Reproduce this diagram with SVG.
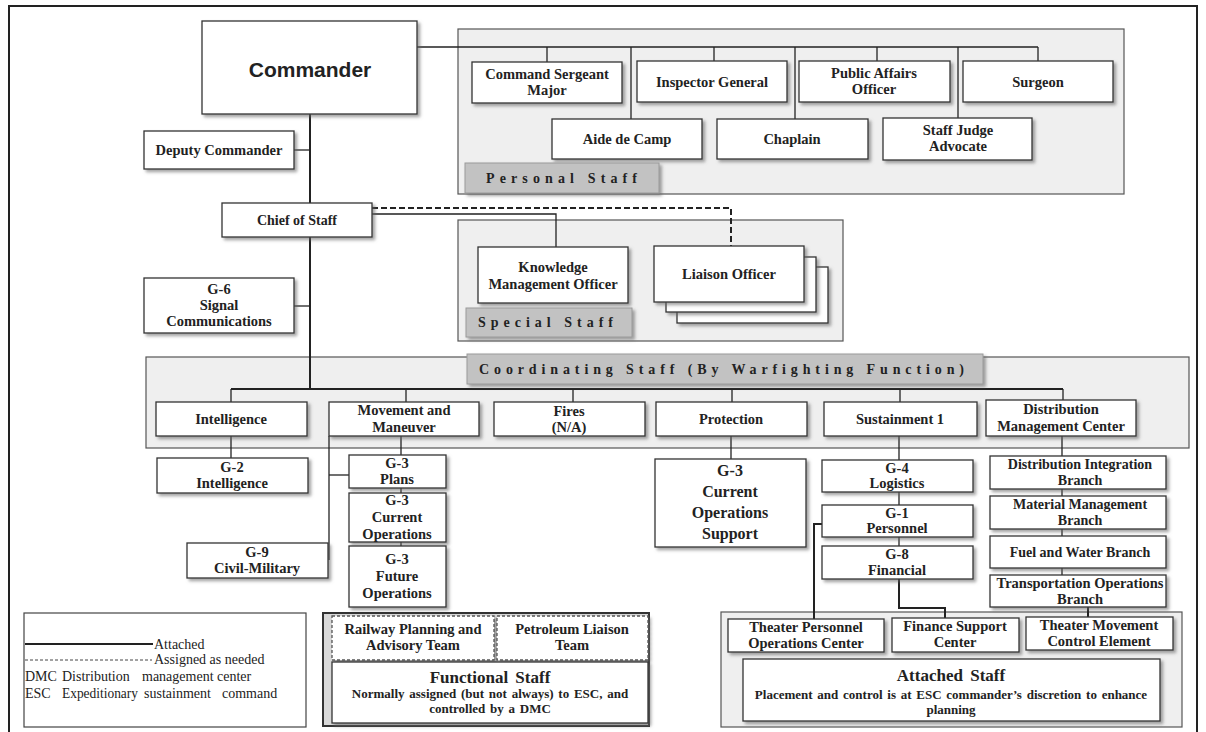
<svg xmlns="http://www.w3.org/2000/svg" width="1206" height="732" viewBox="0 0 1206 732">
<defs>
<filter id="sh" x="-10%" y="-10%" width="130%" height="140%">
<feDropShadow dx="2.5" dy="2.5" stdDeviation="1.5" flood-color="#666" flood-opacity="0.6"/>
</filter>
<style>
.box{fill:#fff;stroke:#333;stroke-width:1.3;filter:url(#sh)}
.dbox{fill:#fff;stroke:#555;stroke-width:1.3;stroke-dasharray:3 2;filter:url(#sh)}
.panel{fill:#efefef;stroke:#555;stroke-width:1.2}
.lbl{fill:#c2c2c2;stroke:#9a9a9a;stroke-width:1;filter:url(#sh)}
.t{font-family:"Liberation Serif","Times New Roman",serif;font-weight:bold;font-size:14.5px;fill:#222;text-anchor:middle}
.s{font-size:14px}
.big{font-size:16px}
.hd{font-size:17px;word-spacing:3px}
.sm{font-size:13px;word-spacing:1.5px}
.sp{font-family:"Liberation Serif","Times New Roman",serif;font-weight:bold;font-size:14px;fill:#222}
.lg{font-family:"Liberation Serif","Times New Roman",serif;font-size:14px;fill:#222}
.ln{stroke:#222;stroke-width:1.3;fill:none}
.lnb{stroke:#222;stroke-width:2;fill:none}
.dash{stroke:#222;stroke-width:2;fill:none;stroke-dasharray:6 3}
</style>
</defs>
<rect width="1206" height="732" fill="#fff"/>
<path d="M9,732 V6 H1197 V732" fill="none" stroke="#222" stroke-width="2"/>

<g id="panels">
<rect class="panel" x="458" y="29" width="666" height="165"/>
<rect class="panel" x="458" y="220" width="385" height="121"/>
<rect class="panel" x="146" y="357" width="1043" height="91"/>
<rect class="panel" x="721" y="612" width="461" height="115"/>
<rect x="323" y="613" width="326" height="113" fill="#d9d9d9" stroke="#333" stroke-width="2"/>
</g>

<g id="connectors">
<line class="ln" x1="417" y1="47" x2="1038" y2="47"/>
<line class="ln" x1="547" y1="47" x2="547" y2="62"/>
<line class="ln" x1="631" y1="47" x2="631" y2="119"/>
<line class="ln" x1="714" y1="47" x2="714" y2="61"/>
<line class="ln" x1="795" y1="47" x2="795" y2="119"/>
<line class="ln" x1="877" y1="47" x2="877" y2="61"/>
<line class="ln" x1="958" y1="47" x2="958" y2="118"/>
<line class="ln" x1="1038" y1="47" x2="1038" y2="61"/>
<line class="lnb" x1="310" y1="114" x2="310" y2="390"/>
<line class="ln" x1="294" y1="150" x2="310" y2="150"/>
<line class="ln" x1="294" y1="306" x2="310" y2="306"/>
<polyline class="dash" points="372,208 731,208 731,246"/>
<polyline class="ln" points="372,214 556,214 556,247"/>
<line class="lnb" x1="231" y1="389" x2="1063" y2="389"/>
<line class="ln" x1="231" y1="389" x2="231" y2="402"/>
<line class="ln" x1="406" y1="389" x2="406" y2="402"/>
<line class="ln" x1="573" y1="389" x2="573" y2="402"/>
<line class="ln" x1="732" y1="389" x2="732" y2="402"/>
<line class="ln" x1="900" y1="389" x2="900" y2="402"/>
<line class="ln" x1="1063" y1="389" x2="1063" y2="400"/>
<line class="ln" x1="231" y1="436" x2="231" y2="458"/>
<line class="ln" x1="329" y1="436" x2="329" y2="560"/>
<line class="ln" x1="329" y1="475" x2="349" y2="475"/>
<line class="ln" x1="401" y1="436" x2="401" y2="455"/>
<line class="ln" x1="401" y1="488" x2="401" y2="493"/>
<line class="ln" x1="401" y1="542" x2="401" y2="546"/>
<line class="ln" x1="731" y1="436" x2="731" y2="459"/>
<line class="ln" x1="899" y1="436" x2="899" y2="460"/>
<line class="ln" x1="899" y1="492" x2="899" y2="505"/>
<line class="ln" x1="899" y1="537" x2="899" y2="546"/>
<polyline class="lnb" points="822,524 814,524 814,619"/>
<polyline class="lnb" points="899,579 899,608 945,608 945,618"/>
<line class="ln" x1="1062" y1="436" x2="1062" y2="456"/>
<line class="ln" x1="1062" y1="489" x2="1062" y2="496"/>
<line class="ln" x1="1062" y1="529" x2="1062" y2="536"/>
<line class="ln" x1="1062" y1="568" x2="1062" y2="575"/>
<line class="lnb" x1="1088" y1="607" x2="1088" y2="617"/>
</g>

<g id="commander"><rect class="box" x="202" y="21" width="215" height="93"/>
<text x="310" y="77" text-anchor="middle" font-family="'Liberation Sans',Arial,sans-serif" font-weight="bold" font-size="21" fill="#222">Commander</text></g>

<g id="csm"><rect class="box" x="472" y="62" width="150" height="41"/><text class="t" x="547" y="79">Command Sergeant<tspan x="547" dy="16">Major</tspan></text></g>
<g id="ig"><rect class="box" x="637" y="61" width="150" height="41"/><text class="t" x="712" y="87">Inspector General</text></g>
<g id="pao"><rect class="box" x="799" y="61" width="151" height="41"/><text class="t" x="874" y="78">Public Affairs<tspan x="874" dy="16">Officer</tspan></text></g>
<g id="surgeon"><rect class="box" x="963" y="61" width="150" height="41"/><text class="t" x="1038" y="87">Surgeon</text></g>
<g id="aide"><rect class="box" x="552" y="119" width="150" height="40"/><text class="t" x="627" y="144">Aide de Camp</text></g>
<g id="chaplain"><rect class="box" x="717" y="119" width="151" height="40"/><text class="t" x="792" y="144">Chaplain</text></g>
<g id="sja"><rect class="box" x="883" y="118" width="149" height="42"/><text class="t" x="958" y="135">Staff Judge<tspan x="958" dy="16">Advocate</tspan></text></g>
<g id="personal-label"><rect class="lbl" x="465" y="163" width="194" height="30"/><text class="sp" x="486" y="183" textLength="151" lengthAdjust="spacing">Personal Staff</text></g>

<g id="deputy"><rect class="box" x="144" y="131" width="150" height="38"/><text class="t" x="219" y="155">Deputy Commander</text></g>
<g id="cos"><rect class="box" x="222" y="203" width="150" height="34"/><text class="t s" x="297" y="225">Chief of Staff</text></g>
<g id="g6"><rect class="box" x="144" y="278" width="150" height="55"/><text class="t" x="219" y="294">G-6<tspan x="219" dy="16">Signal</tspan><tspan x="219" dy="16">Communications</tspan></text></g>

<g id="kmo"><rect class="box" x="478" y="247" width="150" height="56"/><text class="t" x="553" y="272">Knowledge<tspan x="553" dy="17">Management Officer</tspan></text></g>
<g id="special-label"><rect class="lbl" x="466" y="308" width="166" height="29"/><text class="sp" x="478" y="327" textLength="135" lengthAdjust="spacing">Special Staff</text></g>
<g id="liaison">
<rect class="box" x="677" y="267" width="151" height="56"/>
<rect class="box" x="666" y="257" width="150" height="55"/>
<rect class="box" x="654" y="246" width="150" height="56"/>
<text class="t" x="729" y="279">Liaison Officer</text></g>

<g id="coord-label"><rect class="lbl" x="467" y="354" width="516" height="30"/><text class="sp" x="479" y="374" textLength="485" lengthAdjust="spacing">Coordinating Staff (By Warfighting Function)</text></g>
<g id="intelligence"><rect class="box" x="156" y="402" width="151" height="34"/><text class="t" x="231" y="424">Intelligence</text></g>
<g id="movement"><rect class="box" x="329" y="402" width="150" height="34"/><text class="t" x="404" y="415">Movement and<tspan x="404" dy="17">Maneuver</tspan></text></g>
<g id="fires"><rect class="box" x="494" y="402" width="151" height="34"/><text class="t" x="569" y="416">Fires<tspan x="569" dy="16">(N/A)</tspan></text></g>
<g id="protection"><rect class="box" x="656" y="402" width="151" height="34"/><text class="t" x="731" y="424">Protection</text></g>
<g id="sustainment"><rect class="box" x="824" y="402" width="153" height="34"/><text class="t" x="900" y="424">Sustainment 1</text></g>
<g id="dmc"><rect class="box" x="986" y="400" width="150" height="36"/><text class="t" x="1061" y="414">Distribution<tspan x="1061" dy="17">Management Center</tspan></text></g>

<g id="g2"><rect class="box" x="157" y="458" width="151" height="35"/><text class="t" x="232" y="472">G-2<tspan x="232" dy="16">Intelligence</tspan></text></g>
<g id="g9"><rect class="box" x="187" y="543" width="141" height="35"/><text class="t" x="257" y="557">G-9<tspan x="257" dy="16">Civil-Military</tspan></text></g>
<g id="g3-plans"><rect class="box" x="349" y="455" width="97" height="33"/><text class="t" x="397" y="468">G-3<tspan x="397" dy="16">Plans</tspan></text></g>
<g id="g3-current"><rect class="box" x="349" y="493" width="97" height="49"/><text class="t" x="397" y="505">G-3<tspan x="397" dy="17">Current</tspan><tspan x="397" dy="17">Operations</tspan></text></g>
<g id="g3-future"><rect class="box" x="349" y="546" width="97" height="61"/><text class="t" x="397" y="564">G-3<tspan x="397" dy="17">Future</tspan><tspan x="397" dy="17">Operations</tspan></text></g>

<g id="g3-cos"><rect class="box" x="655" y="459" width="151" height="88"/><text class="t big" x="730" y="476">G-3<tspan x="730" dy="21">Current</tspan><tspan x="730" dy="21">Operations</tspan><tspan x="730" dy="21">Support</tspan></text></g>
<g id="g4"><rect class="box" x="822" y="460" width="151" height="32"/><text class="t" x="897" y="473">G-4<tspan x="897" dy="15">Logistics</tspan></text></g>
<g id="g1"><rect class="box" x="822" y="505" width="151" height="32"/><text class="t" x="897" y="518">G-1<tspan x="897" dy="15">Personnel</tspan></text></g>
<g id="g8"><rect class="box" x="822" y="546" width="151" height="33"/><text class="t" x="897" y="559">G-8<tspan x="897" dy="16">Financial</tspan></text></g>

<g id="dib"><rect class="box" x="990" y="456" width="176" height="33"/><text class="t s" x="1080" y="469">Distribution Integration<tspan x="1080" dy="16">Branch</tspan></text></g>
<g id="mmb"><rect class="box" x="990" y="496" width="176" height="33"/><text class="t s" x="1080" y="509">Material Management<tspan x="1080" dy="16">Branch</tspan></text></g>
<g id="fwb"><rect class="box" x="990" y="536" width="176" height="32"/><text class="t s" x="1080" y="557">Fuel and Water Branch</text></g>
<g id="tob"><rect class="box" x="990" y="575" width="176" height="32"/><text class="t" x="1080" y="588">Transportation Operations<tspan x="1080" dy="16">Branch</tspan></text></g>

<g id="tpoc"><rect class="box" x="728" y="619" width="156" height="33"/><text class="t" x="806" y="632">Theater Personnel<tspan x="806" dy="16">Operations Center</tspan></text></g>
<g id="fsc"><rect class="box" x="892" y="618" width="127" height="34"/><text class="t" x="955" y="631">Finance Support<tspan x="955" dy="16">Center</tspan></text></g>
<g id="tmce"><rect class="box" x="1026" y="617" width="147" height="33"/><text class="t" x="1099" y="630">Theater Movement<tspan x="1099" dy="16">Control Element</tspan></text></g>
<g id="attached"><rect class="box" x="743" y="659" width="417" height="62"/><text class="t hd" x="951" y="681">Attached Staff</text><text class="t sm" x="951" y="699">Placement and control is at ESC commander’s discretion to enhance<tspan x="951" dy="15">planning</tspan></text></g>

<g id="railway"><rect class="dbox" x="332" y="616" width="162" height="44"/><text class="t" x="413" y="634">Railway Planning and<tspan x="413" dy="16">Advisory Team</tspan></text></g>
<g id="petroleum"><rect class="dbox" x="497" y="616" width="151" height="44"/><text class="t" x="572" y="634">Petroleum Liaison<tspan x="572" dy="16">Team</tspan></text></g>
<g id="functional"><rect class="box" x="332" y="662" width="316" height="61"/><text class="t hd" x="490" y="683">Functional Staff</text><text class="t sm" x="490" y="698">Normally assigned (but not always) to ESC, and<tspan x="490" dy="15">controlled by a DMC</tspan></text></g>

<g id="legend">
<rect x="24" y="613" width="282" height="114" fill="#fff" stroke="#444" stroke-width="1.2"/>
<line x1="25" y1="644" x2="153" y2="644" stroke="#222" stroke-width="2"/>
<line x1="25" y1="660" x2="152" y2="660" stroke="#444" stroke-width="1" stroke-dasharray="3 2"/>
<text class="lg" x="154" y="649">Attached</text>
<text class="lg" x="154" y="664">Assigned as needed</text>
<text class="lg" x="25" y="681">DMC</text>
<text class="lg" x="62" y="681">Distribution</text>
<text class="lg" x="142" y="681">management center</text>
<text class="lg" x="25" y="698">ESC</text>
<text class="lg" x="62" y="698" textLength="76" lengthAdjust="spacingAndGlyphs">Expeditionary</text>
<text class="lg" x="144" y="698">sustainment</text>
<text class="lg" x="222" y="698">command</text>
</g>
</svg>
